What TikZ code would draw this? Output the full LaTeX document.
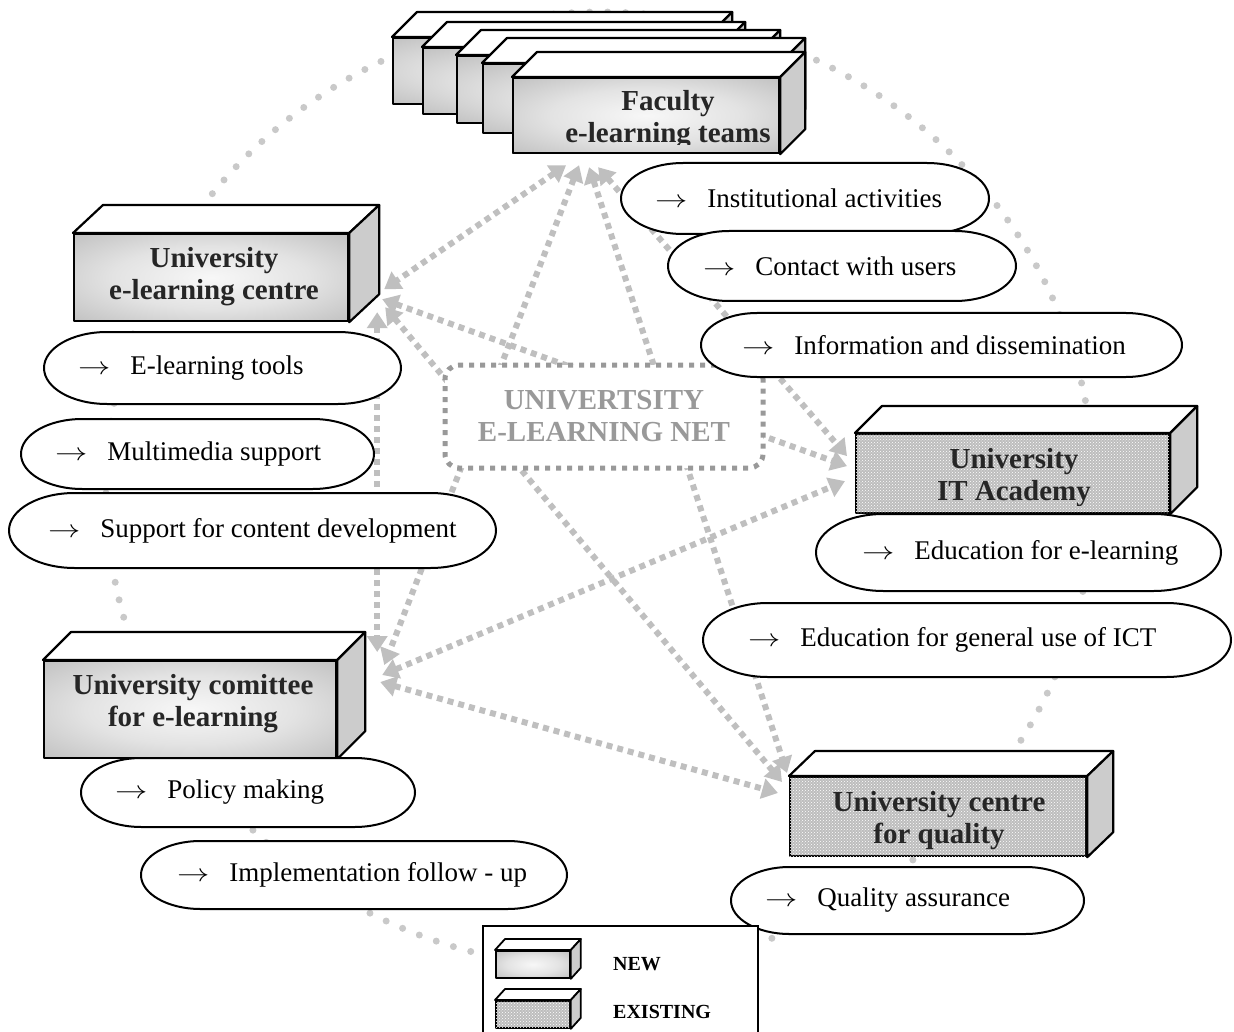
\documentclass[tikz,border=0pt]{standalone}
\usepackage{fontspec}
\setmainfont{Liberation Serif}
\usepackage{graphicx}
\usetikzlibrary{arrows.meta}
\usetikzlibrary{calc}
\usetikzlibrary{patterns}
\usetikzlibrary{positioning}

\pgfdeclareradialshading{boxglow}{\pgfpoint{0bp}{0bp}}{color(0bp)=(gray!6); color(18bp)=(gray!22); color(40bp)=(gray!55); color(50bp)=(gray!62)}
\newcommand{\arr}{\scalebox{1.3}[1]{$\rightarrow$}\hspace{20pt}}

\begin{document}
\begin{tikzpicture}[x=1pt,y=-1pt,
  every node/.style={inner sep=0pt},
  rim/.style={draw,line width=2.2pt,line join=round},
  newbox/.style={rim,anchor=north west,shade,shading=boxglow},
  oldbox/.style={rim,anchor=north west,fill=gray!52,postaction={pattern=crosshatch dots,pattern color=white}},
  lid/.style={rim,fill=white},
  flank/.style={rim,fill=gray!40},
  lbl/.style={anchor=base,font=\bfseries\fontsize{29}{32}\selectfont,text=black!85},
  pill/.style={font=\fontsize{27}{32}\selectfont,
    path picture={
      \draw[line width=2pt,fill=white]
        let \p1=(path picture bounding box.north west),
            \p2=(path picture bounding box.south east),
            \n1={(\y1-\y2)/2-1},
            \n2={1.75*\n1}
        in ({\x1+1+\n2},{\y1-1}) -- ({\x2-1-\n2},{\y1-1})
        arc[start angle=90,end angle=-90,x radius=\n2*1pt,y radius=\n1*1pt]
        -- ({\x1+1+\n2},{\y2+1})
        arc[start angle=270,end angle=90,x radius=\n2*1pt,y radius=\n1*1pt]
        -- cycle;}},
  link/.style={draw=gray!50,line width=6pt,dash pattern=on 6pt off 5pt,>={Triangle[length=16pt,width=20pt]},<->},
  ring/.style={draw=gray!42,line width=7pt,line cap=round,dash pattern=on 0pt off 18pt},
  netbox/.style={draw=gray!80,fill=white,line width=5pt,dash pattern=on 5pt off 6pt,rounded corners=14pt,
    text=gray!80,align=center,font=\bfseries\fontsize{29}{32}\selectfont},
  keytxt/.style={anchor=base west,font=\bfseries\fontsize{20}{22}\selectfont}]
\useasboundingbox (0,0) rectangle (1234,1032);

% outer ring
\draw[ring] (600,490) ellipse [x radius=494pt, y radius=478pt];

% front faces of the units
\node[newbox,minimum width=266,minimum height=75] (fac) at (512,77) {};
\node[newbox,minimum width=274,minimum height=87] (centre) at (73,233) {};
\node[newbox,minimum width=292,minimum height=97] (com) at (43,660) {};
\node[oldbox,minimum width=313,minimum height=79] (it) at (855,433) {};
\node[oldbox,minimum width=296,minimum height=79] (qual) at (789,776) {};

% links
\draw[link] ([shift={(-80,11)}]fac.south) -- ([shift={(35,-33)}]centre.south east);
\draw[link] ([shift={(-67,11)}]fac.south) -- ([shift={(47,5)}]com.north east);
\draw[link] ([shift={(-57,13)}]fac.south) -- ([shift={(-2,-3)}]qual.north west);
\draw[link] ([shift={(-48,13)}]fac.south) -- ([shift={(-8,-17.5)}]it.west);
\draw[link] ([shift={(33,-23)}]centre.south east) -- ([shift={(-8,-7.5)}]it.west);
\draw[link] ([shift={(28,-10)}]centre.south east) -- ([shift={(40,-8)}]com.north east);
\draw[link] ([shift={(36,-15)}]centre.south east) -- ([shift={(-7,6)}]qual.north west);
\draw[link] ([shift={(45,15)}]com.north east) -- ([shift={(-10,7.5)}]it.west);
\draw[link] ([shift={(43,22)}]com.north east) -- ([shift={(-11,17)}]qual.north west);

\node[netbox,minimum width=318,minimum height=103] (net) at (604,416.5) {UNIVERTSITY\\E-LEARNING NET};

% faculty stack
\foreach \b/\x/\y/\w/\h in {fb1/392/37/313/66,fb2/422/47/296/66,fb3/456/55/297/67,fb4/482/63/296/69,fac/512/77/266/75}{
  \node[newbox,minimum width=\w,minimum height=\h] (\b) at (\x,\y) {};
  \draw[lid] (\b.north west) -- ++(25,-25) -- ([shift={(25,-25)}]\b.north east) -- (\b.north east) -- cycle;
  \draw[flank] (\b.north east) -- ++(25,-25) -- ([shift={(25,-25)}]\b.south east) -- (\b.south east) -- cycle;
}
\foreach \b/\dx/\dy in {centre/30/-28,com/28/-28,it/27/-27,qual/26/-25}{
  \draw[lid] (\b.north west) -- ++(\dx,\dy) -- ([shift={(\dx,\dy)}]\b.north east) -- (\b.north east) -- cycle;
  \draw[flank] (\b.north east) -- ++(\dx,\dy) -- ([shift={(\dx,\dy)}]\b.south east) -- (\b.south east) -- cycle;
}

% labels
\begin{scope}
  \clip (fac.north west) rectangle ([yshift=10pt]fac.south east);
  \node[lbl] (factxt) at (668,111) {\parbox[t]{300pt}{\centering Faculty\\e-learning teams}};
\end{scope}
\node[lbl] (centretxt) at (214,268) {\parbox[t]{300pt}{\centering University\\e-learning centre}};
\node[lbl] (comtxt) at (193,694) {\parbox[t]{300pt}{\centering University comittee\\for e-learning}};
\begin{scope}
  \clip (it.north west) rectangle ([yshift=9pt]it.south east);
  \node[lbl] (ittxt) at (1014,468) {\parbox[t]{300pt}{\centering University\\IT Academy}};
\end{scope}
\begin{scope}
  \clip (qual.north west) rectangle ([yshift=8pt]qual.south east);
  \node[lbl] (qualtxt) at (939,811) {\parbox[t]{300pt}{\centering University centre\\for quality}};
\end{scope}

% tasks
\node[pill,minimum height=73,inner xsep=35pt] (inst) at (805,198.5) {\makebox[300pt][l]{\arr Institutional activities}};
\node[pill,minimum height=72,inner xsep=36pt] (contact) at (842,266) {\makebox[278pt][l]{\arr Contact with users}};
\node[pill,minimum height=66,inner xsep=42pt] (info) at (941.5,345) {\makebox[399pt][l]{\arr Information and dissemination}};
\node[pill,minimum height=74,inner xsep=35pt] (tools) at (222.5,368) {\makebox[289pt][l]{\arr E-learning tools}};
\node[pill,minimum height=72,inner xsep=35pt] (multi) at (197.5,454) {\makebox[285pt][l]{\arr Multimedia support}};
\node[pill,minimum height=77,inner xsep=40pt] (support) at (252.5,530.5) {\makebox[409pt][l]{\arr Support for content development}};
\node[pill,minimum height=79,inner xsep=47pt] (edu) at (1018.5,552.5) {\makebox[313pt][l]{\arr Education for e-learning}};
\node[pill,minimum height=76,inner xsep=46pt] (ict) at (967,640) {\makebox[438pt][l]{\arr Education for general use of ICT}};
\node[pill,minimum height=71,inner xsep=35pt] (policy) at (248,792.5) {\makebox[266pt][l]{\arr Policy making}};
\node[pill,minimum height=70,inner xsep=37pt] (impl) at (354,875) {\makebox[354pt][l]{\arr Implementation follow - up}};
\node[pill,minimum height=69,inner xsep=35pt] (qa) at (907.5,900.5) {\makebox[285pt][l]{\arr Quality assurance}};

% legend
\node[draw,line width=1.6pt,fill=white,anchor=north west,minimum width=275,minimum height=120] (legend) at (482,925) {};
\node[newbox,line width=1.8pt,minimum width=74,minimum height=27] (newkey) at (495,950) {};
\node[oldbox,line width=1.8pt,minimum width=74,minimum height=27] (oldkey) at (495,1000) {};
\foreach \b in {newkey,oldkey}{
  \draw[lid,line width=1.8pt] (\b.north west) -- ++(10,-11) -- ([shift={(10,-11)}]\b.north east) -- (\b.north east) -- cycle;
  \draw[flank,line width=1.8pt] (\b.north east) -- ++(10,-11) -- ([shift={(10,-11)}]\b.south east) -- (\b.south east) -- cycle;
}
\node[keytxt] (newtxt) at (613,970) {NEW};
\node[keytxt] (oldtxt) at (613,1018) {EXISTING};
\end{tikzpicture}
\end{document}
